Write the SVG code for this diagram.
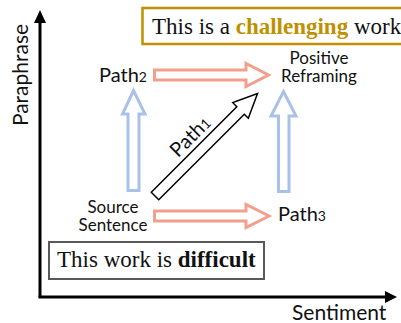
<svg xmlns="http://www.w3.org/2000/svg" width="401" height="323" viewBox="0 0 401 323">
<style>
.lbl{font-family:Lato,"Liberation Sans",sans-serif;fill:#111}
.sub{font-size:14px}
.serif{font-family:"Liberation Serif","Times New Roman",serif;font-size:23px;fill:#111}
.red{fill:#fff;stroke:#F0A08C;stroke-width:3}
.blue{fill:#fff;stroke:#A9C1E8;stroke-width:3}
.blk{fill:#fff;stroke:#000;stroke-width:1.5}
.axis{stroke:#000;stroke-width:3;fill:none}
</style>
<rect width="401" height="323" fill="#fff"/>
<g id="axes">
  <line class="axis" x1="40" y1="297" x2="40" y2="21"/>
  <polygon points="40,10 34,23 46,23" fill="#000"/>
  <line class="axis" x1="38.5" y1="297" x2="387" y2="297"/>
  <polygon points="397,297 385,291 385,303" fill="#000"/>
  <text class="lbl" font-size="21" text-anchor="middle" transform="translate(28,75) rotate(-90)">Paraphrase</text>
  <text class="lbl" font-size="21" x="292" y="320">Sentiment</text>
</g>
<g id="connectors">
  <path class="red" d="M154.5,70 H246 V63.5 L268.5,75 L246,86.5 V80 H154.5 Z"/>
  <path class="red" d="M154.5,211 H246 V204.5 L269,216 L246,227.5 V221 H154.5 Z"/>
  <path class="blue" d="M128,190.5 V114 H122.5 L133.5,90.5 L145,114 H139 V190.5 Z"/>
  <path class="blue" d="M278.5,191.5 V116 H271 L283.5,91.5 L296,116 H289 V191.5 Z"/>
  <g transform="translate(155,196) rotate(-45)">
    <path class="blk" d="M0,-5.3 H121 V-11 L145,0 L121,11 V5.3 H0 Z"/>
    <text class="lbl" font-size="20" x="67" y="-10.5" text-anchor="middle">Path<tspan class="sub">1</tspan></text>
  </g>
</g>
<g id="path2">
  <text class="lbl" font-size="20" x="99" y="82">Path<tspan class="sub">2</tspan></text>
</g>
<g id="positive-reframing">
  <text class="lbl" font-size="17" text-anchor="middle"><tspan x="319" y="64">Positive</tspan><tspan x="319" y="82">Reframing</tspan></text>
</g>
<g id="source-sentence">
  <text class="lbl" font-size="17" text-anchor="middle"><tspan x="113" y="213">Source</tspan><tspan x="113" y="231">Sentence</tspan></text>
</g>
<g id="path3">
  <text class="lbl" font-size="20" x="278" y="221">Path<tspan class="sub">3</tspan></text>
</g>
<g id="challenging-box">
  <rect x="142.5" y="8" width="270" height="36" fill="#fff" stroke="#BF9000" stroke-width="2.5"/>
  <text class="serif" x="152" y="34">This is a <tspan font-weight="bold" fill="#BF9000">challenging</tspan> work</text>
</g>
<g id="difficult-box">
  <rect x="49" y="242" width="215" height="37" fill="#fff" stroke="#595959" stroke-width="2"/>
  <text class="serif" x="57" y="267">This work is <tspan font-weight="bold">difficult</tspan></text>
</g>
</svg>
